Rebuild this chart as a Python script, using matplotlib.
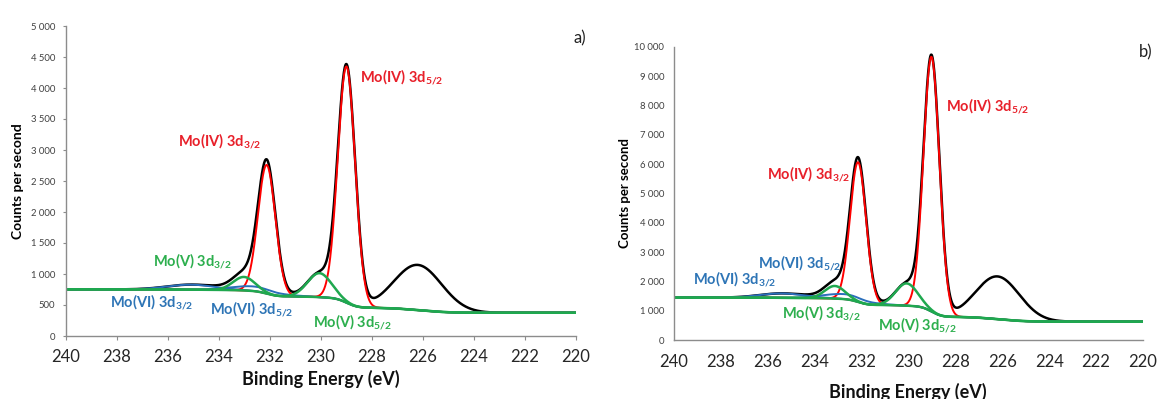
import numpy as np
import matplotlib
matplotlib.use("Agg")
import matplotlib.pyplot as plt
from matplotlib.ticker import FuncFormatter, MultipleLocator

plt.rcParams['font.family'] = ['Lato', 'DejaVu Sans']
plt.rcParams['mathtext.fontset'] = 'custom'
plt.rcParams['mathtext.rm'] = 'Lato:bold'
plt.rcParams['mathtext.it'] = 'Lato:bold:italic'
plt.rcParams['mathtext.bf'] = 'Lato:bold'

# fitted components: centre (eV), height above background (cps), FWHM (eV)
components = ["Mo(IV) 3d5/2", "Mo(IV) 3d3/2", "Mo(V) 3d5/2", "Mo(V) 3d3/2",
              "Mo(VI) 3d5/2", "Mo(VI) 3d3/2", "S 2s"]
comp_colors = ["red", "red", "green", "green", "blue", "blue", None]
centers_a = [229.0, 232.13, 230.06, 233.02, 232.6, 235.1, 226.2]
heights_a = [3810, 2075, 387, 218, 75, 80, 730]
centers_b = [229.02, 232.15, 230.08, 233.14, 232.7, 235.4, 226.2]
heights_b = [8690, 4770, 760, 430, 170, 150, 1460]
fwhm = [0.80, 0.80, 1.1, 1.0, 2.2, 2.2, 2.2]

# Shirley background end levels (high BE side, low BE side)
bg_a = (752, 375)
bg_b = (1448, 627)

label_text = [r"Mo(IV) 3d$_{5/2}$", r"Mo(IV) 3d$_{3/2}$", r"Mo(V) 3d$_{3/2}$",
              r"Mo(VI) 3d$_{3/2}$", r"Mo(VI) 3d$_{5/2}$", r"Mo(V) 3d$_{5/2}$"]
label_col = ["red", "red", "green", "blue", "blue", "green"]
label_x_a = [228.48, 235.59, 236.59, 238.29, 234.37, 230.32]
label_y_a = [4168, 3136, 1202, 540, 434, 222]
label_x_b = [228.39, 236.02, 235.38, 239.20, 236.42, 231.32]
label_y_b = [7982, 5644, 912, 2075, 2623, 513]

colors = {"red": "#FF0000", "blue": "#2A6EBB", "green": "#1FA84F"}
txt_colors = {"red": "#E8202A", "blue": "#2E75B6", "green": "#2DAF4E"}

E = np.linspace(240, 220, 2001)


def peak(c, h, w):
    s = w / 2.3548
    return h * np.exp(-(E - c) ** 2 / (2 * s ** 2))


def draw(ax, centers, heights, bg, lab_x, lab_y, ymax, ystep, tag, tag_y):
    peaks = [peak(c, h, w) for c, h, w in zip(centers, heights, fwhm)]
    total = np.sum(peaks, axis=0)
    # Shirley-type step: cumulative area from low BE side
    cum = np.cumsum(total[::-1])[::-1]
    back = bg[1] + (bg[0] - bg[1]) * cum / cum[0]
    ax.plot(E, back + total, color="black", lw=1.8, zorder=1)
    for col in ["red", "blue", "green"]:
        for p, cc in zip(peaks, comp_colors):
            if cc == col:
                ax.plot(E, back + p, color=colors[col],
                        lw=1.8 if col == "green" else 1.4, zorder=2)
    for t, c, x, y in zip(label_text, label_col, lab_x, lab_y):
        ax.text(x, y, t, color=txt_colors[c], fontsize=10.5, fontweight="bold",
                ha="left", va="center")
    ax.text(219.6, tag_y, tag, fontsize=12, ha="right", va="center",
            color="#222222")
    ax.set_xlim(240, 220)
    ax.set_ylim(0, ymax)
    ax.xaxis.set_major_locator(MultipleLocator(2))
    ax.yaxis.set_major_locator(MultipleLocator(ystep))
    ax.yaxis.set_major_formatter(
        FuncFormatter(lambda v, pos: f"{v:,.0f}".replace(",", " ")))
    for s in ["top", "right"]:
        ax.spines[s].set_visible(False)
    for s in ["left", "bottom"]:
        ax.spines[s].set_color("#8C8C8C")
        ax.spines[s].set_linewidth(1.0)
    ax.tick_params(axis="x", labelsize=12, colors="#8C8C8C",
                   labelcolor="#262626")
    ax.tick_params(axis="y", labelsize=6.8, colors="#8C8C8C",
                   labelcolor="#404040")
    ax.set_facecolor("none")


fig = plt.figure(figsize=(11.58, 3.99), dpi=100)
ax1 = fig.add_axes([66 / 1158, 63 / 399, 510 / 1158, 310 / 399])
ax2 = fig.add_axes([674 / 1158, 59 / 399, 469 / 1158, 293 / 399])

draw(ax1, centers_a, heights_a, bg_a, label_x_a, label_y_a, 5000, 500, "a)", 4804)
draw(ax2, centers_b, heights_b, bg_b, label_x_b, label_y_b, 10000, 1000, "b)", 9806)

ax1.tick_params(axis="x", length=3, pad=6)
ax1.tick_params(axis="y", length=2.5, pad=5.5)
ax2.tick_params(axis="x", length=0, pad=10)
ax2.tick_params(axis="y", length=0, pad=7)

fig.text(18 / 1158, 0.546, "Counts per second", rotation=90, fontsize=10,
         fontweight="bold", ha="center", va="center")
fig.text(625 / 1158, 0.515, "Counts per second", rotation=90, fontsize=9.5,
         fontweight="bold", ha="center", va="center")
fig.text(321 / 1158, 0.050, "Binding Energy (eV)", fontsize=13,
         fontweight="bold", ha="center", va="center", color="#111111")
fig.text(908 / 1158, 0.0175, "Binding Energy (eV)", fontsize=13,
         fontweight="bold", ha="center", va="center", color="#111111")

fig.savefig("out.png", dpi=100)
